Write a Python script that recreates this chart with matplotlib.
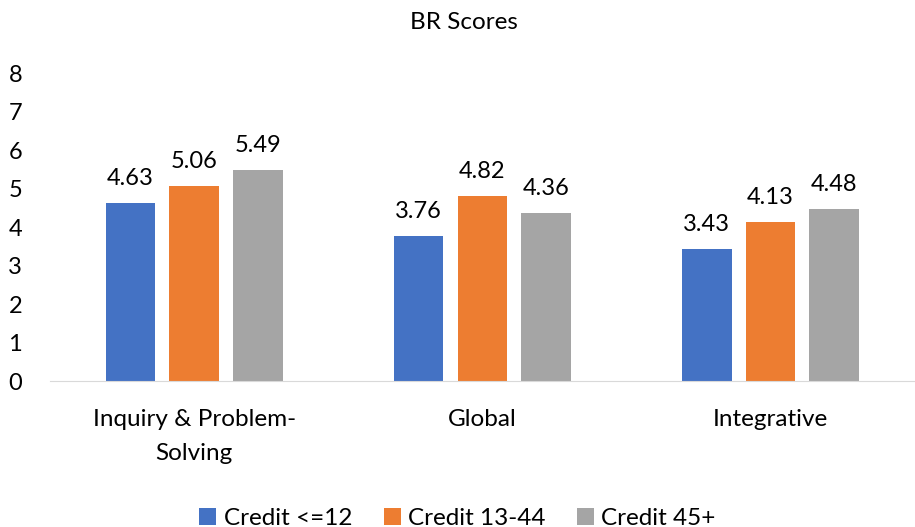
import matplotlib
matplotlib.use("Agg")
import matplotlib.pyplot as plt
import numpy as np

categories = ["Inquiry & Problem-\nSolving", "Global", "Integrative"]
series_names = ["Credit <=12", "Credit 13-44", "Credit 45+"]
credit_le12 = [4.63, 3.76, 3.43]
credit_13_44 = [5.06, 4.82, 4.13]
credit_45p = [5.49, 4.36, 4.48]
colors = ["#4472C4", "#ED7D31", "#A5A5A5"]
yticks = [0, 1, 2, 3, 4, 5, 6, 7, 8]

plt.rcParams['font.family'] = ['Lato', 'DejaVu Sans']

fig = plt.figure(figsize=(9.15, 5.27), dpi=100)
ax = fig.add_axes([0.0546, 0.277, 0.945, 0.584])

x = np.arange(len(categories))
width = 0.172
step = 0.221
for i, (vals, name, c) in enumerate(zip([credit_le12, credit_13_44, credit_45p], series_names, colors)):
    bars = ax.bar(x + (i - 1) * step, vals, width, color=c, label=name)
    for b, v in zip(bars, vals):
        ax.annotate(f"{v:.2f}", (b.get_x() + b.get_width() / 2, v), xytext=(0, 10),
                    textcoords='offset points', ha='center', va='bottom', fontsize=17, color='#000000')

ax.set_xlim(-0.5, 2.5)
ax.set_ylim(0, 8)
ax.set_yticks(yticks)
ax.set_yticklabels([str(t) for t in yticks], fontsize=17)
ax.set_xticks(x)
ax.set_xticklabels(categories, fontsize=17.5, linespacing=1.8)
for s in ['top', 'right', 'left']:
    ax.spines[s].set_visible(False)
ax.spines['bottom'].set_color('#D9D9D9')
ax.tick_params(axis='both', length=0)
ax.tick_params(axis='x', pad=20)
ax.tick_params(axis='y', pad=20)

fig.text(0.507, 0.958, "BR Scores", ha='center', va='center', fontsize=17.5)

fig.legend(loc='lower center', bbox_to_anchor=(0.5, -0.045), ncol=3, frameon=False,
           fontsize=17.5, handlelength=0.7, handleheight=0.7, columnspacing=1.3, handletextpad=0.3)

fig.savefig("out.png", dpi=100)
